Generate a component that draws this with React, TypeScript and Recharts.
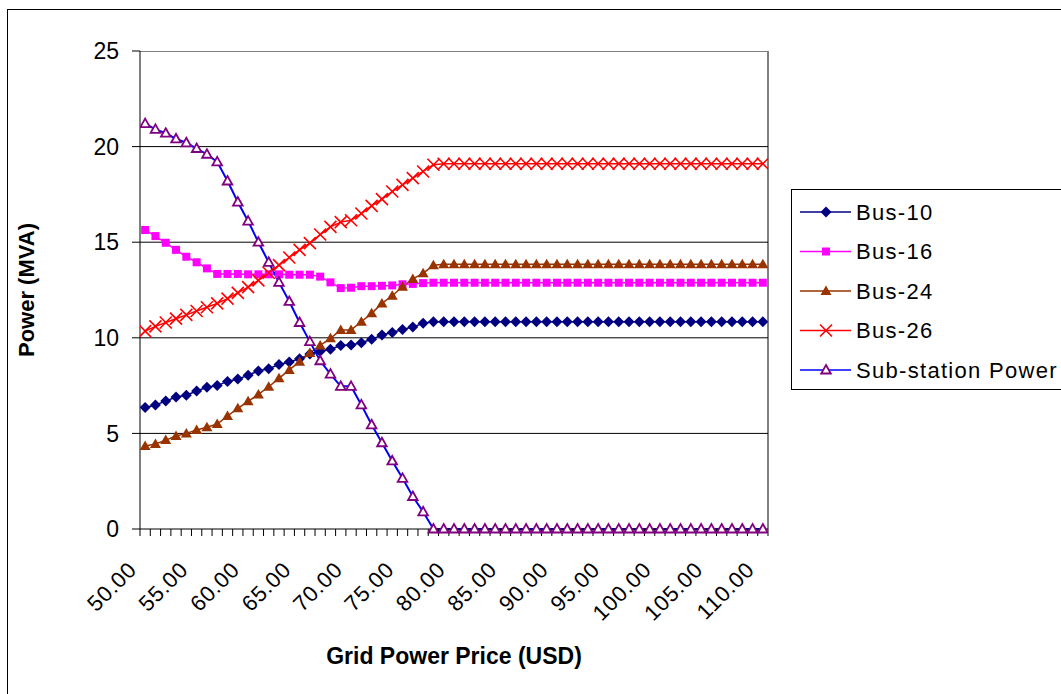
import React from "react";
import { LineChart, Line, XAxis, YAxis, CartesianGrid } from "recharts";

// grid power price (USD), one point per dollar
const prices = [
  50, 51, 52, 53, 54, 55, 56, 57, 58, 59, 60, 61, 62, 63, 64, 65, 66, 67, 68, 69,
  70, 71, 72, 73, 74, 75, 76, 77, 78, 79, 80, 81, 82, 83, 84, 85, 86, 87, 88, 89,
  90, 91, 92, 93, 94, 95, 96, 97, 98, 99, 100, 101, 102, 103, 104, 105, 106, 107,
  108, 109, 110,
];

const bus10 = [
  6.36, 6.49, 6.69, 6.9, 7.0, 7.22, 7.41, 7.5, 7.72, 7.84, 8.04, 8.27, 8.38, 8.6,
  8.73, 8.9, 9.15, 9.3, 9.4, 9.6, 9.62, 9.74, 9.92, 10.15, 10.28, 10.43, 10.56,
  10.76, 10.84, 10.84, 10.84, 10.84, 10.84, 10.84, 10.84, 10.84, 10.84, 10.84,
  10.84, 10.84, 10.84, 10.84, 10.84, 10.84, 10.84, 10.84, 10.84, 10.84, 10.84,
  10.84, 10.84, 10.84, 10.84, 10.84, 10.84, 10.84, 10.84, 10.84, 10.84, 10.84,
  10.84,
];

const bus16 = [
  15.64, 15.32, 14.97, 14.6, 14.24, 13.95, 13.63, 13.34, 13.34, 13.34, 13.32,
  13.32, 13.32, 13.32, 13.3, 13.3, 13.3, 13.2, 12.9, 12.6, 12.62, 12.7, 12.7,
  12.72, 12.74, 12.8, 12.82, 12.86, 12.88, 12.88, 12.88, 12.88, 12.88, 12.88,
  12.88, 12.88, 12.88, 12.88, 12.88, 12.88, 12.88, 12.88, 12.88, 12.88, 12.88,
  12.88, 12.88, 12.88, 12.88, 12.88, 12.88, 12.88, 12.88, 12.88, 12.88, 12.88,
  12.88, 12.88, 12.88, 12.88, 12.88,
];

const bus24 = [
  4.34, 4.45, 4.65, 4.86, 5.0, 5.18, 5.32, 5.49, 5.91, 6.31, 6.68, 7.04, 7.44,
  7.88, 8.32, 8.75, 9.2, 9.6, 9.97, 10.41, 10.41, 10.84, 11.28, 11.8, 12.2, 12.67,
  13.08, 13.37, 13.8, 13.85, 13.85, 13.85, 13.85, 13.85, 13.85, 13.85, 13.85,
  13.85, 13.85, 13.85, 13.85, 13.85, 13.85, 13.85, 13.85, 13.85, 13.85, 13.85,
  13.85, 13.85, 13.85, 13.85, 13.85, 13.85, 13.85, 13.85, 13.85, 13.85, 13.85,
  13.85, 13.85,
];

const bus26 = [
  10.35, 10.6, 10.8, 11.0, 11.2, 11.4, 11.6, 11.8, 12.05, 12.35, 12.65, 13.0, 13.4,
  13.8, 14.2, 14.6, 14.95, 15.4, 15.8, 16.05, 16.15, 16.5, 16.9, 17.25, 17.65, 18.0,
  18.35, 18.7, 19.05, 19.1, 19.1, 19.1, 19.1, 19.1, 19.1, 19.1, 19.1, 19.1, 19.1,
  19.1, 19.1, 19.1, 19.1, 19.1, 19.1, 19.1, 19.1, 19.1, 19.1, 19.1, 19.1, 19.1,
  19.1, 19.1, 19.1, 19.1, 19.1, 19.1, 19.1, 19.1, 19.1,
];

const substation = [
  21.2, 20.9, 20.7, 20.4, 20.2, 19.9, 19.6, 19.2, 18.2, 17.1, 16.1, 15.0, 13.95,
  12.9, 11.9, 10.8, 9.8, 8.8, 8.1, 7.46, 7.46, 6.49, 5.45, 4.51, 3.56, 2.65, 1.7,
  0.9, 0, 0, 0, 0, 0, 0, 0, 0, 0, 0, 0, 0, 0, 0, 0, 0, 0, 0, 0, 0, 0, 0, 0, 0, 0,
  0, 0, 0, 0, 0, 0, 0, 0,
];

const yTicks = [0, 5, 10, 15, 20, 25];
const gridValues = [5, 10, 15, 20];
const labelStep = 5;

const series = [
  { key: "bus10", name: "Bus-10", line: "#000080", mark: "#000080", shape: "diamond" },
  { key: "bus16", name: "Bus-16", line: "#FF00FF", mark: "#FF00FF", shape: "square" },
  { key: "bus24", name: "Bus-24", line: "#993300", mark: "#993300", shape: "triangle" },
  { key: "bus26", name: "Bus-26", line: "#FF0000", mark: "#FF0000", shape: "cross" },
  { key: "substation", name: "Sub-station Power", line: "#0000FF", mark: "#800080", shape: "hollow" },
];

const data = prices.map((price, i) => ({
  price,
  bus10: bus10[i],
  bus16: bus16[i],
  bus24: bus24[i],
  bus26: bus26[i],
  substation: substation[i],
}));

// Excel puts the category tick marks between the points
const tickEdges = [...prices.map((p) => p - 0.5), prices[prices.length - 1] + 0.5];

const FONT = '"Liberation Sans", Arial, sans-serif';

function marker(shape: string, color: string, cx: number, cy: number, key?: string) {
  if (shape === "diamond") {
    return (
      <polygon
        key={key}
        points={`${cx},${cy - 5.5} ${cx + 5.5},${cy} ${cx},${cy + 5.5} ${cx - 5.5},${cy}`}
        fill={color}
      />
    );
  }
  if (shape === "square") {
    return <rect key={key} x={cx - 4} y={cy - 4} width={8} height={8} fill={color} />;
  }
  if (shape === "triangle") {
    return (
      <polygon
        key={key}
        points={`${cx},${cy - 5.5} ${cx + 5.5},${cy + 4} ${cx - 5.5},${cy + 4}`}
        fill={color}
      />
    );
  }
  if (shape === "cross") {
    return (
      <g key={key} stroke={color} strokeWidth={1.6}>
        <line x1={cx - 6} y1={cy - 6} x2={cx + 6} y2={cy + 6} />
        <line x1={cx - 6} y1={cy + 6} x2={cx + 6} y2={cy - 6} />
      </g>
    );
  }
  return (
    <polygon
      key={key}
      points={`${cx},${cy - 5} ${cx + 4.8},${cy + 3.5} ${cx - 4.8},${cy + 3.5}`}
      fill="#fff"
      stroke={color}
      strokeWidth={1.8}
    />
  );
}

function PriceTick(props: any) {
  const { x, y, payload } = props;
  const price = payload.value + 0.5;
  if (price % labelStep !== 0 || price > prices[prices.length - 1]) return <g />;
  const ax = x - 2;
  const ay = y + 35;
  return (
    <text
      x={ax}
      y={ay}
      textAnchor="end"
      fontSize={22}
      letterSpacing={0.8}
      fontFamily={FONT}
      fill="#000"
      transform={`rotate(-45 ${ax} ${ay})`}
    >
      {price.toFixed(2)}
    </text>
  );
}

function Legend() {
  return (
    <svg
      width={300}
      height={202}
      style={{ position: "absolute", left: 791, top: 189 }}
    >
      <rect x={0.5} y={0.5} width={320} height={200} fill="#fff" stroke="#000" />
      {series.map((s, i) => {
        const cy = 23 + i * 39.5;
        return (
          <g key={s.key}>
            <line x1={9} y1={cy} x2={60} y2={cy} stroke={s.line} strokeWidth={1.5} />
            {marker(s.shape, s.mark, 35, cy)}
            <text
              x={65}
              y={cy}
              dy="0.36em"
              fontSize={22}
              letterSpacing={1.3}
              fontFamily={FONT}
              fill="#000"
            >
              {s.name}
            </text>
          </g>
        );
      })}
    </svg>
  );
}

export default function App() {
  return (
    <div
      style={{
        position: "fixed",
        left: 0,
        top: 0,
        width: 1061,
        height: 694,
        overflow: "hidden",
        background: "#fff",
        fontFamily: FONT,
      }}
    >
      <div
        style={{
          position: "absolute",
          left: 7,
          top: 9,
          width: 1100,
          height: 720,
          border: "1px solid #000",
        }}
      />
      <div
        style={{
          position: "absolute",
          left: 140,
          top: 51,
          width: 629,
          height: 478,
          boxSizing: "border-box",
          borderTop: "1px solid #808080",
          borderRight: "2px solid #808080",
        }}
      />
      <div style={{ position: "absolute", left: 0, top: 0 }}>
        <LineChart
          width={1061}
          height={694}
          data={data}
          margin={{ top: 51, right: 293, bottom: 105, left: 80 }}
        >
          <CartesianGrid
            vertical={false}
            horizontalValues={gridValues}
            stroke="#000"
            strokeWidth={1}
          />
          <XAxis
            dataKey="price"
            type="number"
            domain={[tickEdges[0], tickEdges[tickEdges.length - 1]]}
            ticks={tickEdges}
            interval={0}
            tickSize={7}
            tickMargin={0}
            tick={<PriceTick />}
            axisLine={{ stroke: "#000" }}
            tickLine={{ stroke: "#000" }}
            height={60}
            allowDataOverflow
          />
          <YAxis
            domain={[0, 25]}
            ticks={yTicks}
            interval={0}
            width={60}
            tickSize={8}
            tickMargin={13}
            axisLine={{ stroke: "#000" }}
            tickLine={{ stroke: "#000" }}
            tick={{ fill: "#000", fontSize: 23, fontFamily: FONT }}
          />
          {series.map((s) => (
            <Line
              key={s.key}
              dataKey={s.key}
              name={s.name}
              stroke={s.line}
              strokeWidth={s.key === "substation" ? 2 : 1.5}
              isAnimationActive={false}
              dot={(p: any) => marker(s.shape, s.mark, p.cx, p.cy, `${s.key}-${p.index}`)}
              activeDot={false}
            />
          ))}
        </LineChart>
      </div>
      <Legend />
      <div
        style={{
          position: "absolute",
          left: 27 - 150,
          top: 290 - 13,
          width: 300,
          lineHeight: "26px",
          textAlign: "center",
          fontWeight: "bold",
          fontSize: 22,
          transform: "rotate(-90deg)",
        }}
      >
        Power (MVA)
      </div>
      <div
        style={{
          position: "absolute",
          left: 140,
          top: 643,
          width: 628,
          lineHeight: "26px",
          textAlign: "center",
          fontWeight: "bold",
          fontSize: 23,
        }}
      >
        Grid Power Price (USD)
      </div>
    </div>
  );
}
